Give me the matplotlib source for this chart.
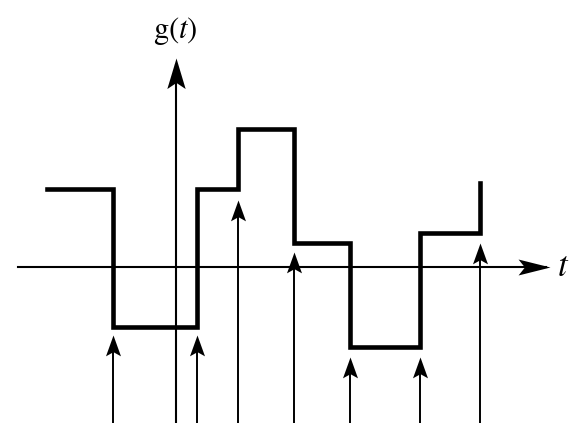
import matplotlib.pyplot as plt
from matplotlib.path import Path

plt.rcParams['mathtext.fontset'] = 'stix'

# escalones de g(t): bordes y niveles
bordes = [-2.3, -1.12, 0.37, 1.1, 2.1, 3.1, 4.35, 5.42]
niveles = [1.39, -1.07, 1.39, 2.46, 0.43, -1.43, 0.61]
nivel_final = 1.5

# instantes de muestreo y altura de la punta de cada flecha
muestras = [-1.12, 0.37, 1.1, 2.1, 3.1, 4.35, 5.42]
puntas = [-1.21, -1.21, 1.2, 0.26, -1.61, -1.61, 0.43]


# punta tipo "stealth" como marcador (la punta queda en el origen)
def punta(ancho, muesca=0.8, horizontal=False):
    v = [(0, 0), (-ancho, -1), (0, -muesca), (ancho, -1), (0, 0)]
    if horizontal:
        v = [(y, x) for x, y in v]
    return Path(v, [Path.MOVETO, Path.LINETO, Path.LINETO, Path.LINETO, Path.CLOSEPOLY])


fig = plt.figure(figsize=(5.74, 4.23), dpi=100)
ax = fig.add_axes([0, 0, 1, 1])
ax.set_xlim(-3.143, 7.107)
ax.set_ylim(-2.786, 4.768)
ax.axis('off')

# ejes
ax.plot([-2.82, 6.6], [0, 0], color='black', lw=1.5)
ax.plot([6.68], [0], marker=punta(0.25, horizontal=True), ms=46, color='black', mew=0)
ax.plot([0, 0], [-2.8, 3.6], color='black', lw=1.5)
ax.plot([0], [3.73], marker=punta(0.3), ms=44, color='black', mew=0)

# función escalonada
xs, ys = [], []
for i, v in enumerate(niveles):
    xs += [bordes[i], bordes[i + 1]]
    ys += [v, v]
xs.append(bordes[-1])
ys.append(nivel_final)
ax.plot(xs, ys, color='black', lw=3.3, solid_joinstyle='miter')

# flechas de muestreo
for m, p in zip(muestras, puntas):
    ax.plot([m, m], [-2.8, p - 0.2], color='black', lw=1.4)
    ax.plot([m], [p], marker=punta(0.36), ms=30, color='black', mew=0)

ax.text(-0.02, 4.09, r'$\mathrm{g}(t)$', fontsize=22, ha='center', va='baseline')
ax.text(6.8, -0.16, r'$t$', fontsize=25, ha='left', va='baseline')

plt.savefig('out.png', dpi=100)
